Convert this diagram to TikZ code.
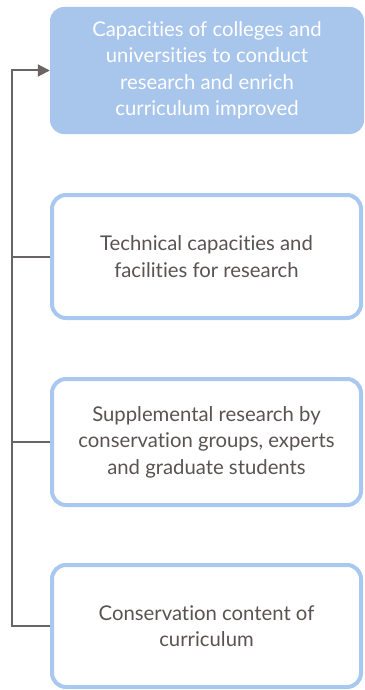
\documentclass[tikz,border=0pt]{standalone}
\usepackage{fontspec}
\setmainfont[Ligatures=NoCommon]{Lato}
\usetikzlibrary{arrows.meta}
\definecolor{boxblue}{HTML}{A8C6EC}
\definecolor{boxedge}{HTML}{A9C8EF}
\definecolor{txtgrey}{HTML}{5A5352}
\definecolor{linegrey}{HTML}{6B6464}
\tikzset{
  box/.style={rounded corners=14pt, align=center, text=txtgrey,
    font=\fontsize{20.3}{26.5}\selectfont, inner sep=0pt},
  topbox/.style={box, fill=boxblue, text=white, minimum width=314pt, minimum height=127pt},
  subbox/.style={box, draw=boxedge, line width=4pt, fill=white, minimum width=309pt},
  conn/.style={draw=linegrey, line width=2pt},
}
\begin{document}
\begin{tikzpicture}[x=1pt,y=1pt]
\useasboundingbox (0,0) rectangle (364,-690);
\node[topbox] (b1) at (207,-70.5) {Capacities of colleges and\\universities to conduct\\research and enrich\\curriculum improved};
\node[subbox, minimum height=123pt] (b2) at (206.5,-256.5) {Technical capacities and\\facilities for research};
\node[subbox, minimum height=126pt] (b3) at (206.5,-442) {Supplemental research by\\conservation groups, experts\\and graduate students};
\node[subbox, minimum height=122pt] (b4) at (206.5,-626) {Conservation content of\\curriculum};
\coordinate (tx) at (12,0);
\draw[conn, -{Triangle[length=12pt,width=12pt]}] (b4.west) -- (b4.west -| tx) |- (b1.west);
\draw[conn] (b2.west) -- (b2.west -| tx);
\draw[conn] (b3.west) -- (b3.west -| tx);
\end{tikzpicture}
\end{document}
